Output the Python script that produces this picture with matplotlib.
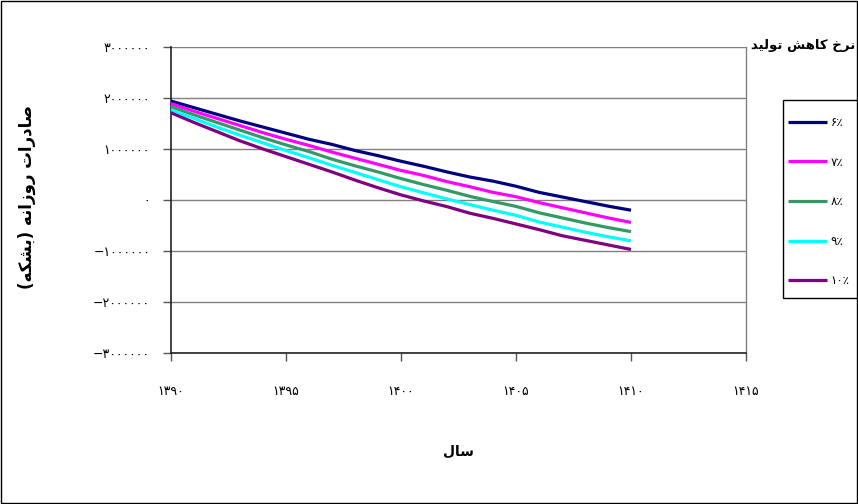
import matplotlib
matplotlib.use('Agg')
import matplotlib.pyplot as plt
from matplotlib.patches import Rectangle
from matplotlib.ticker import FixedLocator, FuncFormatter

# ---------------- data ----------------
years = list(range(1390, 1411))
series_labels = ['۶٪', '۷٪', '۸٪', '۹٪', '۱۰٪']
rate_6 = [1.94, 1.81, 1.68, 1.55, 1.43, 1.31, 1.19, 1.09, 0.97, 0.87, 0.76,
          0.66, 0.55, 0.45, 0.37, 0.27, 0.15, 0.06, -0.03, -0.12, -0.20]
rate_7 = [1.89, 1.74, 1.60, 1.46, 1.32, 1.19, 1.07, 0.94, 0.82, 0.70, 0.58,
          0.48, 0.36, 0.26, 0.15, 0.065, -0.05, -0.15, -0.25, -0.35, -0.44]
rate_8 = [1.83, 1.67, 1.52, 1.37, 1.22, 1.08, 0.95, 0.80, 0.67, 0.55, 0.42,
          0.30, 0.19, 0.07, -0.03, -0.125, -0.25, -0.35, -0.45, -0.54, -0.62]
rate_9 = [1.77, 1.60, 1.43, 1.27, 1.12, 0.97, 0.83, 0.68, 0.54, 0.40, 0.26,
          0.14, 0.02, -0.09, -0.20, -0.30, -0.43, -0.53, -0.63, -0.72, -0.80]
rate_10 = [1.71, 1.52, 1.34, 1.16, 1.00, 0.85, 0.70, 0.55, 0.39, 0.24, 0.10,
           -0.02, -0.13, -0.26, -0.36, -0.47, -0.58, -0.70, -0.79, -0.88, -0.97]
series_millions = [rate_6, rate_7, rate_8, rate_9, rate_10]
colors = ['#000080', '#FF00FF', '#339966', '#00FFFF', '#800080']

x_ticks = [1390, 1395, 1400, 1405, 1410, 1415]
y_ticks = [-3000000, -2000000, -1000000, 0, 1000000, 2000000, 3000000]

x_label = 'سال'
y_label = 'صادرات روزانه (بشکه)'
legend_title = 'نرخ کاهش تولید'

# ------------- simple Arabic-script shaping (matplotlib has no shaper) -------------
FORMS = {
    'ا': ('\uFE8D', '\uFE8E', None, None),
    'ب': ('\uFE8F', '\uFE90', '\uFE91', '\uFE92'),
    'ت': ('\uFE95', '\uFE96', '\uFE97', '\uFE98'),
    'خ': ('\uFEA5', '\uFEA6', '\uFEA7', '\uFEA8'),
    'د': ('\uFEA9', '\uFEAA', None, None),
    'ر': ('\uFEAD', '\uFEAE', None, None),
    'ز': ('\uFEAF', '\uFEB0', None, None),
    'س': ('\uFEB1', '\uFEB2', '\uFEB3', '\uFEB4'),
    'ش': ('\uFEB5', '\uFEB6', '\uFEB7', '\uFEB8'),
    'ص': ('\uFEB9', '\uFEBA', '\uFEBB', '\uFEBC'),
    'ل': ('\uFEDD', '\uFEDE', '\uFEDF', '\uFEE0'),
    'ن': ('\uFEE5', '\uFEE6', '\uFEE7', '\uFEE8'),
    'ه': ('\uFEE9', '\uFEEA', '\uFEEB', '\uFEEC'),
    'و': ('\uFEED', '\uFEEE', None, None),
    'ی': ('\uFBFC', '\uFBFD', '\uFBFE', '\uFBFF'),
    'ک': ('\uFB8E', '\uFB8F', '\uFB90', '\uFB91'),
}
MIRROR = {'(': ')', ')': '('}


def rtl(text):
    chars = list(text)
    out = []
    n = len(chars)
    for i, c in enumerate(chars):
        if c not in FORMS:
            out.append(MIRROR.get(c, c))
            continue
        prev = chars[i - 1] if i > 0 else None
        nxt = chars[i + 1] if i < n - 1 else None
        iso, fin, ini, med = FORMS[c]
        join_prev = prev in FORMS and FORMS[prev][2] is not None
        join_next = nxt in FORMS and ini is not None
        if join_prev and join_next:
            out.append(med)
        elif join_prev:
            out.append(fin)
        elif join_next:
            out.append(ini)
        else:
            out.append(iso)
    return ''.join(reversed(out))


PERSIAN_DIGITS = str.maketrans('0123456789', '۰۱۲۳۴۵۶۷۸۹')


def fa_num(v, pos=None):
    v = int(round(v))
    s = str(abs(v)).translate(PERSIAN_DIGITS)
    return ('\u2212' + s) if v < 0 else s


# ---------------- figure ----------------
W, H = 858, 504
plt.rcParams['font.family'] = ['DejaVu Sans']
fig = plt.figure(figsize=(W / 100, H / 100), dpi=100)
ax = fig.add_axes([171 / W, 1 - 353 / H, (746 - 171) / W, (353 - 47) / H])

for vals, col, lab in zip(series_millions, colors, series_labels):
    ax.plot(years, [v * 1e6 for v in vals], color=col, lw=2.3, label=lab,
            solid_joinstyle='round', solid_capstyle='butt', zorder=3)

ax.set_xlim(1390, 1415)
ax.set_ylim(-3000000, 3000000)
ax.xaxis.set_major_locator(FixedLocator(x_ticks))
ax.yaxis.set_major_locator(FixedLocator(y_ticks))
ax.xaxis.set_major_formatter(FuncFormatter(fa_num))
ax.yaxis.set_major_formatter(FuncFormatter(fa_num))
ax.grid(axis='y', color='#808080', lw=1.0, zorder=1)
ax.grid(axis='x', visible=False)

for side in ['left', 'bottom']:
    ax.spines[side].set_color('#222222')
    ax.spines[side].set_linewidth(1.2)
ax.spines['top'].set_visible(False)
ax.spines['right'].set_color('#808080')
ax.spines['right'].set_linewidth(1.0)

ax.tick_params(axis='y', direction='out', length=6, width=1, pad=9,
               labelsize=9, color='#555555')
ax.tick_params(axis='x', direction='out', length=6, width=1, pad=17,
               labelsize=9, color='#555555')

ax.set_xlabel(rtl(x_label), fontsize=10, fontweight='bold', labelpad=34)
ax.set_ylabel(rtl(y_label), fontsize=12, fontweight='bold')
ax.yaxis.set_label_coords(36 / W, 1 - 197 / H, transform=fig.transFigure)

# legend (frame drawn separately so its padding matches the reference)
leg = ax.legend(loc='upper left', bbox_to_anchor=(788 / W, 1 - 116 / H),
                bbox_transform=fig.transFigure, frameon=False,
                fontsize=8.5, labelspacing=2.25, handlelength=3.3,
                handletextpad=0.3, borderpad=0, borderaxespad=0)
fig.patches.append(Rectangle((783 / W, 1 - 298 / H), 90 / W, 198 / H,
                             transform=fig.transFigure, fill=False,
                             edgecolor='black', lw=1.0, clip_on=False))

fig.text(855 / W, 1 - 45 / H, rtl(legend_title),
         fontsize=9.5, fontweight='bold', ha='right', va='center')

fig.patches.append(Rectangle((0.0006, 0.001), 0.9985, 0.997,
                             transform=fig.transFigure, fill=False,
                             edgecolor='black', lw=1.0))

fig.savefig('out.png', dpi=100)
